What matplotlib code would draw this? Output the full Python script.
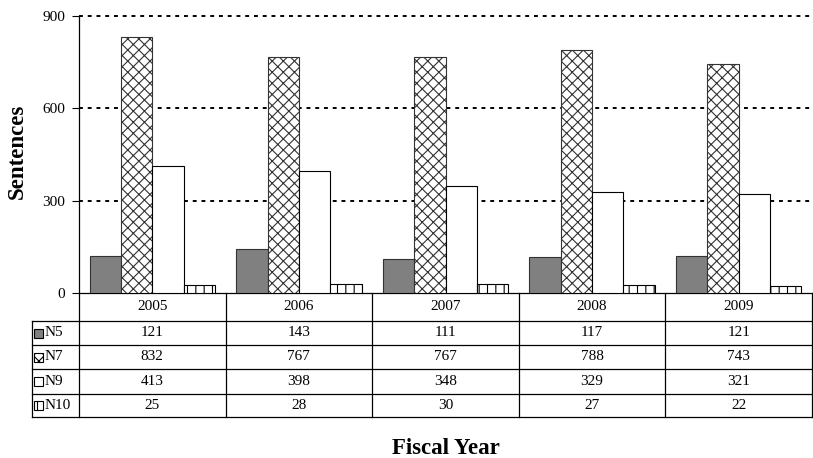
import matplotlib
matplotlib.use("Agg")
import matplotlib.pyplot as plt
import matplotlib.patches as mpatches
import numpy as np

plt.rcParams["font.family"] = ["Liberation Serif", "DejaVu Serif"]
plt.rcParams["hatch.linewidth"] = 0.8

years = ["2005", "2006", "2007", "2008", "2009"]
series = ["N5", "N7", "N9", "N10"]
n5 = [121, 143, 111, 117, 121]
n7 = [832, 767, 767, 788, 743]
n9 = [413, 398, 348, 329, 321]
n10 = [25, 28, 30, 27, 22]
values = [n5, n7, n9, n10]

faces = ["#808080", "white", "white", "white"]
hatches = [None, "xxx", None, "||"]
edges = ["#333333", "#333333", "black", "black"]

W, H = 813, 458
fig = plt.figure(figsize=(W / 100, H / 100), dpi=100)

# main plot area (pixel box 79..812 x 16..293)
L, R, T, B = 79, 812, 16, 293
ax = fig.add_axes([L / W, 1 - B / H, (R - L) / W, (B - T) / H])
x = np.arange(len(years))
width = 0.214
offsets = (np.arange(len(series)) - 1.5) * width
for k, vals in enumerate(values):
    ax.bar(x + offsets[k], vals, width, facecolor=faces[k], edgecolor=edges[k],
           hatch=hatches[k], linewidth=0.8, zorder=3)

ax.set_xlim(-0.5, len(years) - 0.5)
ax.set_ylim(0, 900)
ax.set_yticks([0, 300, 600, 900])
for yv in [300, 600, 900]:
    ax.axhline(yv, color="black", ls=(0, (2, 2.5)), lw=1.4, zorder=1, clip_on=False)
ax.set_xticks([])
ax.tick_params(axis="y", length=5, labelsize=11, pad=5)
for s in ["top", "right"]:
    ax.spines[s].set_visible(False)
ax.spines["left"].set_linewidth(0.9)
ax.spines["bottom"].set_linewidth(0.9)

fig.text(17 / W, 1 - 151 / H, "Sentences", rotation=90, ha="center", va="center",
         fontsize=16.5, fontweight="bold")

# data table below the axis
TB = 417
tax = fig.add_axes([L / W, 1 - TB / H, (R - L) / W, (TB - B) / H])
tax.set_xlim(-0.5, len(years) - 0.5)
row_edges = [0, 28, 52, 76, 101, 124]
tax.set_ylim(row_edges[-1], 0)
tax.axis("off")
label_left = -0.5 - 47 / 147

lc = dict(color="black", lw=0.9, clip_on=False)
for b in np.arange(len(years) + 1) - 0.5:
    tax.plot([b, b], [0, row_edges[-1]], **lc)
tax.plot([label_left, label_left], [row_edges[1], row_edges[-1]], **lc)
for ry in row_edges[1:]:
    tax.plot([label_left, len(years) - 0.5], [ry, ry], **lc)

for i, yr in enumerate(years):
    tax.text(i, (row_edges[0] + row_edges[1]) / 2, yr, ha="center", va="center", fontsize=11)
for k, name in enumerate(series):
    yc = (row_edges[k + 1] + row_edges[k + 2]) / 2
    for i, v in enumerate(values[k]):
        tax.text(i, yc, str(v), ha="center", va="center", fontsize=11)
    sq = mpatches.Rectangle((label_left + 0.016, yc - 4.5), 0.06, 9, facecolor=faces[k],
                            edgecolor="black", hatch=hatches[k], lw=0.8, clip_on=False)
    tax.add_patch(sq)
    tax.text(label_left + 0.088, yc, name, ha="left", va="center", fontsize=11)

fig.text((L + R) / 2 / W, 1 - 449 / H, "Fiscal Year", ha="center", va="center",
         fontsize=16.5, fontweight="bold")

fig.savefig("out.png", dpi=100)
